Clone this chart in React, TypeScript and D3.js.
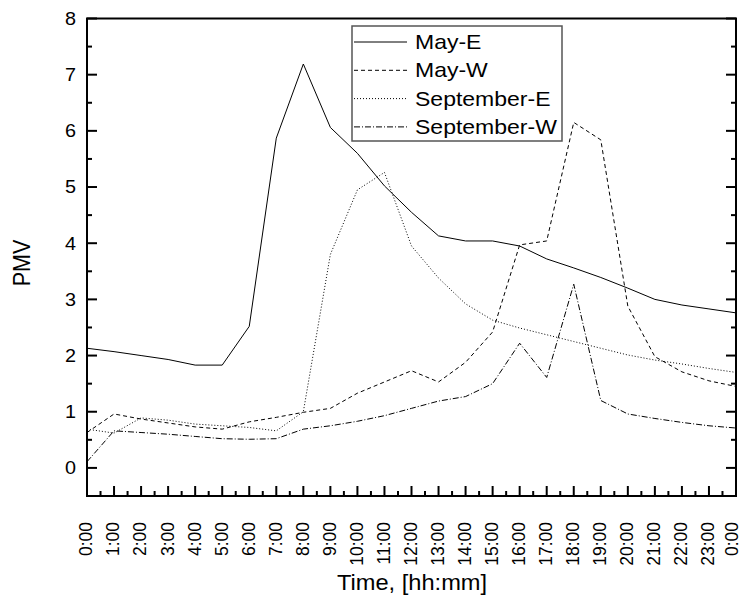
import React from "react";
import * as d3 from "d3";

// Hourly PMV values, 0:00 through the following 0:00
const hours = d3.range(0, 25);
const hourLabels = hours.map((h) => `${h % 24}:00`);
const mayE = [2.13, 2.07, 2.0, 1.93, 1.83, 1.83, 2.52, 5.87, 7.19, 6.06, 5.6, 5.02, 4.55, 4.13, 4.04, 4.04, 3.95, 3.72, 3.56, 3.39, 3.2, 3.0, 2.9, 2.83, 2.76];
const mayW = [0.63, 0.96, 0.87, 0.8, 0.73, 0.69, 0.82, 0.9, 0.99, 1.06, 1.33, 1.53, 1.73, 1.53, 1.88, 2.42, 3.97, 4.04, 6.15, 5.84, 2.88, 1.98, 1.71, 1.55, 1.45];
const sepE = [0.69, 0.62, 0.89, 0.85, 0.78, 0.75, 0.72, 0.66, 1.0, 3.8, 4.95, 5.26, 3.95, 3.38, 2.92, 2.63, 2.49, 2.37, 2.25, 2.13, 2.01, 1.92, 1.85, 1.77, 1.7];
const sepW = [0.11, 0.66, 0.63, 0.6, 0.56, 0.52, 0.51, 0.52, 0.69, 0.75, 0.83, 0.93, 1.06, 1.19, 1.27, 1.5, 2.22, 1.61, 3.27, 1.2, 0.96, 0.88, 0.81, 0.75, 0.71];
const seriesNames = ["May-E", "May-W", "September-E", "September-W"];
const yTicks = [0, 1, 2, 3, 4, 5, 6, 7, 8];

const series = [
  { name: seriesNames[0], values: mayE, dash: "none" },
  { name: seriesNames[1], values: mayW, dash: "4,3" },
  { name: seriesNames[2], values: sepE, dash: "1,2" },
  { name: seriesNames[3], values: sepW, dash: "6,2,1,2" },
];

const W = 743;
const H = 599;
const M = { left: 87, right: 736, top: 18.5, bottom: 496 };
const FONT = "Arial, 'Liberation Sans', Helvetica, sans-serif";
const SX = 1.1; // horizontal text stretch

export default function App() {
  const x = d3.scaleLinear().domain([0, 24]).range([M.left, M.right]);
  const y = d3.scaleLinear().domain([-0.5, 8]).range([M.bottom, M.top]);
  const line = d3
    .line<number>()
    .x((_, i) => x(hours[i]))
    .y((d) => y(d));

  const xMinor = d3.range(0.5, 24, 1);
  const yMinor = d3.range(-0.5, 8, 1).filter((v) => v > -0.5);

  const legX = 352;
  const legY = 26;
  const legW = 210;
  const legH = 115;
  const rowY = (i: number) => legY + 16 + i * 28.3;

  return (
    <svg width={W} height={H} style={{ position: "absolute", left: 0, top: 0, background: "#fff" }}>
      <rect x={0} y={0} width={W} height={H} fill="#fff" />
      {/* data lines */}
      {series.map((s) => (
        <path
          key={s.name}
          d={line(s.values) || ""}
          fill="none"
          stroke="#000"
          strokeWidth={1}
          strokeDasharray={s.dash}
        />
      ))}

      {/* frame */}
      <rect
        x={M.left}
        y={M.top}
        width={M.right - M.left}
        height={M.bottom - M.top}
        fill="none"
        stroke="#000"
        strokeWidth={2}
      />

      {/* x ticks */}
      {hours.map((h) => (
        <line key={"xt" + h} x1={x(h)} x2={x(h)} y1={M.bottom} y2={M.bottom - 10} stroke="#000" strokeWidth={2} />
      ))}
      {xMinor.map((h) => (
        <line key={"xm" + h} x1={x(h)} x2={x(h)} y1={M.bottom} y2={M.bottom - 5} stroke="#000" strokeWidth={2} />
      ))}
      {hours.map((h, i) => (
        <text
          key={"xl" + h}
          transform={`translate(${Math.min(x(h), W - 10)},522) rotate(-90) scale(1,${SX})`}
          textAnchor="end"
          dy="0.28em"
          fontFamily={FONT}
          fontSize={17.5}
          fill="#000"
        >
          {hourLabels[i]}
        </text>
      ))}

      {/* y ticks, left and right */}
      {yTicks.map((v) => (
        <g key={"yt" + v}>
          <line x1={M.left} x2={M.left + 10} y1={y(v)} y2={y(v)} stroke="#000" strokeWidth={2} />
          <line x1={M.right} x2={M.right - 10} y1={y(v)} y2={y(v)} stroke="#000" strokeWidth={2} />
          <text
            transform={`translate(76,${y(v)}) scale(${SX},1)`}
            textAnchor="end"
            dy="0.35em"
            fontFamily={FONT}
            fontSize={18}
            fill="#000"
          >
            {v}
          </text>
        </g>
      ))}
      {yMinor.map((v) => (
        <g key={"ym" + v}>
          <line x1={M.left} x2={M.left + 5} y1={y(v)} y2={y(v)} stroke="#000" strokeWidth={2} />
          <line x1={M.right} x2={M.right - 5} y1={y(v)} y2={y(v)} stroke="#000" strokeWidth={2} />
        </g>
      ))}

      {/* axis titles */}
      <text
        transform={`translate(412,590) scale(${SX},1)`}
        textAnchor="middle"
        fontFamily={FONT}
        fontSize={21.5}
        fill="#000"
      >
        Time, [hh:mm]
      </text>
      <text
        transform={`translate(30,263) rotate(-90) scale(1,${SX})`}
        textAnchor="middle"
        fontFamily={FONT}
        fontSize={21.5}
        fill="#000"
      >
        PMV
      </text>

      {/* legend */}
      <rect x={legX} y={legY} width={legW} height={legH} fill="#fff" stroke="#555" strokeWidth={1.5} />
      {series.map((s, i) => (
        <g key={"lg" + s.name}>
          <line
            x1={legX + 2}
            x2={407}
            y1={rowY(i)}
            y2={rowY(i)}
            stroke="#000"
            strokeWidth={1}
            strokeDasharray={s.dash}
          />
          <text
            transform={`translate(415,${rowY(i)}) scale(1.15,1)`}
            dy="0.35em"
            fontFamily={FONT}
            fontSize={20}
            fill="#000"
          >
            {s.name}
          </text>
        </g>
      ))}
    </svg>
  );
}
